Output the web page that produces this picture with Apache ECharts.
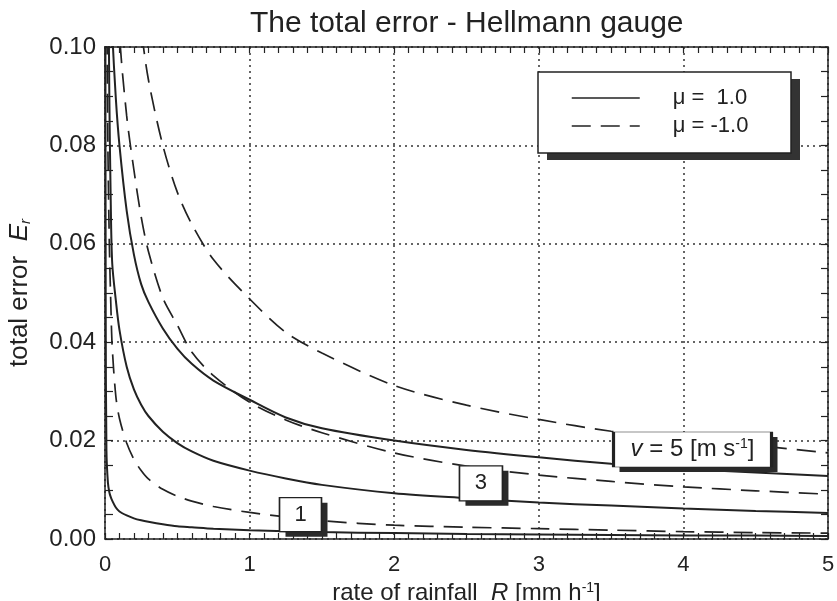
<!DOCTYPE html>
<html>
<head>
<meta charset="utf-8">
<script src="https://cdn.jsdelivr.net/npm/echarts@6/dist/echarts.min.js"></script>
<style>
html,body{margin:0;padding:0;background:#fff;}
#chart{width:837px;height:601px;}
</style>
</head>
<body>
<div id="chart"></div>
<script>
// rate of rainfall R [mm/h]
const R = [0.002, 0.005, 0.01, 0.02, 0.03, 0.04, 0.05, 0.075, 0.1, 0.15, 0.2, 0.25, 0.3, 0.4, 0.5, 0.6, 0.75, 1, 1.25, 1.5, 2, 2.5, 3, 3.5, 4, 4.5, 5];
// total error, mu = 1.0 (solid)
const solidV1 = [0.13, 0.045, 0.018, 0.0115, 0.0095, 0.0085, 0.0078, 0.0064, 0.0056, 0.0048, 0.0042, 0.0038, 0.0035, 0.003, 0.0026, 0.0024, 0.0021, 0.0018, 0.0016, 0.0014, 0.0012, 0.001, 0.0009, 0.0008, 0.0007, 0.0007, 0.0006];
const solidV3 = [null, null, null, 0.13, 0.09, 0.068, 0.056, 0.0485, 0.0425, 0.035, 0.0304, 0.0273, 0.025, 0.0218, 0.0195, 0.0178, 0.0159, 0.0139, 0.0123, 0.011, 0.0093, 0.0083, 0.0074, 0.0068, 0.0062, 0.0057, 0.0053];
const solidV5 = [null, null, null, null, 0.125, 0.112, 0.103, 0.0895, 0.08, 0.0667, 0.0578, 0.0518, 0.0482, 0.0428, 0.0387, 0.0356, 0.0322, 0.0283, 0.0247, 0.0225, 0.02, 0.0181, 0.0166, 0.0153, 0.0143, 0.0135, 0.0128];
// total error, mu = -1.0 (dashed)
const dashV1 = [null, null, 0.12, 0.08, 0.06, 0.048, 0.039, 0.029, 0.0245, 0.0195, 0.0162, 0.0139, 0.0122, 0.0101, 0.0087, 0.0077, 0.0066, 0.0054, 0.0045, 0.0037, 0.0028, 0.0024, 0.0021, 0.0018, 0.0015, 0.0013, 0.0012];
const dashV3 = [null, null, null, null, null, null, null, 0.13, 0.103, 0.086, 0.075, 0.0655, 0.0585, 0.049, 0.0435, 0.038, 0.0332, 0.0278, 0.0242, 0.0216, 0.0175, 0.0148, 0.013, 0.0117, 0.0106, 0.0098, 0.0091];
const dashV5 = [null, null, null, null, null, null, null, null, null, null, 0.12, 0.104, 0.0934, 0.080, 0.0705, 0.064, 0.0568, 0.0488, 0.042, 0.0378, 0.0312, 0.0272, 0.0243, 0.0219, 0.0203, 0.019, 0.0175];

const legendNames = ['μ =  1.0', 'μ = -1.0'];
const xTicks = { min: 0, max: 5, interval: 1, minorStep: 0.1 };
const yTicks = { min: 0, max: 0.1, interval: 0.02, minorStep: 0.005 };
// curve labels: [R, E] anchor and text
const label1 = { at: [1.352, 0.00494], text: '1' };
const label3 = { at: [2.60, 0.01132], text: '3' };
const label5 = { at: [4.063, 0.01819], text: '{i|v} = 5 [m s{sup|-1}]' };

const FONT = "'Liberation Sans', Arial, Helvetica, sans-serif";
const INK = '#222';

function pairs(vals) {
  const out = [];
  for (let i = 0; i < R.length; i++) if (vals[i] != null) out.push([R[i], vals[i]]);
  return out;
}

function boxMark(lbl, size, fs) {
  return {
    symbol: 'rect',
    symbolSize: size,
    silent: true,
    animation: false,
    data: [
      { coord: lbl.at, symbolOffset: [6, 5], itemStyle: { color: '#2a2a2a', borderWidth: 0 }, label: { show: false } },
      {
        coord: lbl.at,
        itemStyle: { color: '#fff', borderColor: INK, borderWidth: 1.5 },
        label: {
          show: true, position: 'inside', formatter: lbl.text, fontSize: fs, color: INK, fontFamily: FONT,
          rich: {
            i: { fontStyle: 'italic', fontSize: fs, color: INK, fontFamily: FONT },
            sup: { fontSize: 14, color: INK, fontFamily: FONT, verticalAlign: 'top', padding: [0, 0, 8, 0] }
          }
        }
      }
    ]
  };
}

function lineSeries(name, vals, dashed, mark) {
  const s = {
    type: 'line', name: name, data: pairs(vals), xAxisIndex: 0, yAxisIndex: 0,
    showSymbol: false, symbol: 'none', smooth: 0.3, clip: true,
    lineStyle: { color: INK, width: dashed ? 1.7 : 2, type: dashed ? [19, 10] : 'solid' },
    itemStyle: { color: INK },
    z: 3
  };
  if (mark) s.markPoint = mark;
  return s;
}

function gridLine() { return { show: true, lineStyle: { color: '#333', type: [2, 4], width: 1.5 } }; }
function axisLine() { return { show: true, onZero: false, lineStyle: { color: INK, width: 1.5 } }; }

// an axis that only draws short ticks pointing into the plot
function tickAxis(pos, t, len) {
  return {
    type: 'value', position: pos, min: t.min, max: t.max, interval: t.minorStep, offset: -len,
    axisLine: { show: false, onZero: false },
    axisTick: { show: true, length: len, lineStyle: { color: INK, width: 1.2 } },
    axisLabel: { show: false }, splitLine: { show: false }, silent: true
  };
}
// a frame axis: line only
function frameAxis(pos, t) {
  return {
    type: 'value', position: pos, min: t.min, max: t.max, interval: t.interval,
    axisLine: axisLine(), axisTick: { show: false }, axisLabel: { show: false }, splitLine: { show: false }
  };
}

const chart = echarts.init(document.getElementById('chart'), null, { renderer: 'canvas' });
chart.setOption({
  animation: false,
  backgroundColor: '#fff',
  title: {
    text: 'The total error - Hellmann gauge',
    left: 245, top: 4,
    textStyle: { fontSize: 30, fontWeight: 'normal', color: INK, fontFamily: FONT }
  },
  grid: { left: 105, right: 9, top: 47, bottom: 62, containLabel: false, outerBoundsMode: 'none' },
  legend: {
    data: legendNames, left: 571, top: 87, orient: 'vertical',
    itemWidth: 68, itemHeight: 14, itemGap: 6, padding: 0, selectedMode: false, z: 10,
    itemStyle: { color: 'rgba(0,0,0,0)', borderColor: 'rgba(0,0,0,0)', borderWidth: 0, opacity: 0 },
    lineStyle: { width: 1.5 },
    formatter: n => '{s|}' + n,
    textStyle: { fontSize: 22, color: INK, fontFamily: FONT, rich: { s: { width: 28 } } }
  },
  graphic: [
    { type: 'rect', z: 5, silent: true, shape: { x: 547, y: 79, width: 253, height: 81 }, style: { fill: '#333' } },
    { type: 'rect', z: 6, silent: true, shape: { x: 538, y: 72, width: 253, height: 81 }, style: { fill: '#fff', stroke: INK, lineWidth: 1.5 } }
  ],
  xAxis: [
    {
      type: 'value', position: 'bottom', min: xTicks.min, max: xTicks.max, interval: xTicks.interval,
      axisLine: axisLine(),
      axisTick: { show: false },
      axisLabel: { fontSize: 22, color: INK, margin: 15, fontFamily: FONT },
      splitLine: gridLine(),
      name: 'rate of rainfall  {i|R} [mm h{sup|-1}]',
      nameLocation: 'middle', nameGap: 34,
      nameTextStyle: {
        fontSize: 24, color: INK, fontFamily: FONT,
        rich: {
          i: { fontStyle: 'italic', fontSize: 24, color: INK, fontFamily: FONT },
          sup: { fontSize: 14, color: INK, fontFamily: FONT, verticalAlign: 'top', padding: [0, 0, 9, 0] }
        }
      }
    },
    frameAxis('top', xTicks),
    tickAxis('bottom', xTicks, 6),
    tickAxis('top', xTicks, 6)
  ],
  yAxis: [
    {
      type: 'value', position: 'left', min: yTicks.min, max: yTicks.max, interval: yTicks.interval,
      axisLine: axisLine(),
      axisTick: { show: false },
      axisLabel: { fontSize: 24, color: INK, margin: 9, fontFamily: FONT, formatter: v => v.toFixed(2) },
      splitLine: gridLine(),
      name: 'total error  {i|E}{sub|r}',
      nameLocation: 'middle', nameGap: 72,
      nameTextStyle: {
        fontSize: 26, color: INK, fontFamily: FONT,
        rich: {
          i: { fontStyle: 'italic', fontSize: 26, color: INK, fontFamily: FONT },
          sub: { fontSize: 15, fontStyle: 'italic', color: INK, fontFamily: FONT, verticalAlign: 'bottom', padding: [7, 0, 0, 0] }
        }
      }
    },
    frameAxis('right', yTicks),
    tickAxis('left', yTicks, 8),
    tickAxis('right', yTicks, 7)
  ],
  series: [
    lineSeries(legendNames[0], solidV1, false, boxMark(label1, [42, 34], 22)),
    lineSeries(legendNames[0], solidV3, false, boxMark(label3, [43, 35], 22)),
    lineSeries(legendNames[0], solidV5, false, boxMark(label5, [158, 35], 24)),
    lineSeries(legendNames[1], dashV1, true),
    lineSeries(legendNames[1], dashV3, true),
    lineSeries(legendNames[1], dashV5, true)
  ]
});
</script>
</body>
</html>
